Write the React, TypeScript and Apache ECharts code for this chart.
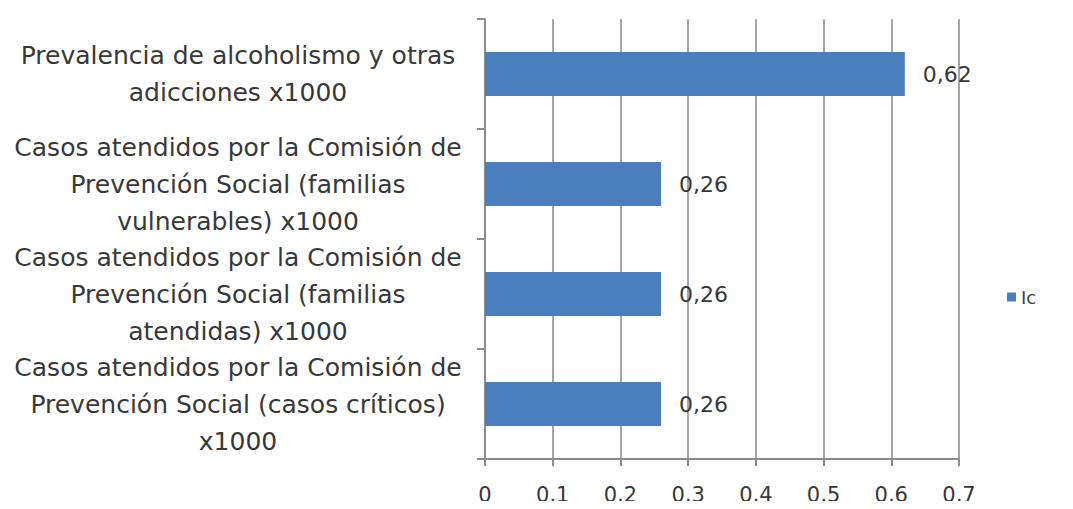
import React, { useEffect, useRef } from "react";
import * as echarts from "echarts";

const categories: string[] = [
  "Prevalencia de alcoholismo y otras\nadicciones x1000",
  "Casos atendidos por la Comisión de\nPrevención Social (familias\nvulnerables) x1000",
  "Casos atendidos por la Comisión de\nPrevención Social (familias\natendidas) x1000",
  "Casos atendidos por la Comisión de\nPrevención Social (casos críticos)\nx1000",
];
const values: number[] = [0.62, 0.26, 0.26, 0.26];
const seriesName = "Ic";
const xTicks = { min: 0, max: 0.7, interval: 0.1 };

const fmt = (v: number) => (v === 0 ? "0" : String(Number(v.toFixed(2))).replace(".", ","));

export default function App() {
  const ref = useRef<HTMLDivElement>(null);
  useEffect(() => {
    if (!ref.current) return;
    const chart = echarts.init(ref.current, undefined, { renderer: "svg" });
    const font = "DejaVu Sans";
    chart.setOption({
      animation: false,
      backgroundColor: "#ffffff",
      textStyle: { fontFamily: font },
      grid: { left: 485, right: 114, top: 19, bottom: 50, containLabel: false },
      legend: {
        data: [seriesName],
        orient: "vertical",
        left: 1002,
        top: 283,
        itemWidth: 9,
        itemHeight: 9,
        icon: "rect",
        itemGap: 6,
        textStyle: { fontFamily: font, fontSize: 18, color: "#444" },
      },
      xAxis: {
        type: "value",
        min: xTicks.min,
        max: xTicks.max,
        interval: xTicks.interval,
        axisLine: { show: true, lineStyle: { color: "#8c8c8c", width: 2 } },
        axisTick: { show: true, length: 7, lineStyle: { color: "#8c8c8c", width: 2 } },
        splitLine: { show: true, lineStyle: { color: "#a6a6a6", width: 2 } },
        axisLabel: {
          margin: 25,
          fontSize: 21,
          lineHeight: 22,
          color: "#383838",
          fontFamily: font,
          formatter: (v: number) => fmt(v),
        },
      },
      yAxis: {
        type: "category",
        inverse: true,
        data: categories,
        axisLine: { show: true, lineStyle: { color: "#8c8c8c", width: 2 } },
        axisTick: { show: true, length: 8, lineStyle: { color: "#8c8c8c", width: 2 } },
        axisLabel: {
          interval: 0,
          hideOverlap: false,
          align: "center",
          margin: 247,
          fontSize: 25,
          lineHeight: 37,
          color: "#383838",
          fontFamily: font,
        },
      },
      series: [
        {
          name: seriesName,
          type: "bar",
          data: values,
          barWidth: 44,
          itemStyle: { color: "#4a7ebd" },
          label: {
            show: true,
            position: "right",
            distance: 18,
            fontSize: 22,
            color: "#383838",
            fontFamily: font,
            formatter: (p: any) => fmt(p.value),
          },
        },
      ],
    });
    return () => chart.dispose();
  }, []);
  return <div ref={ref} style={{ width: 1073, height: 509, margin: -8 }} />;
}
